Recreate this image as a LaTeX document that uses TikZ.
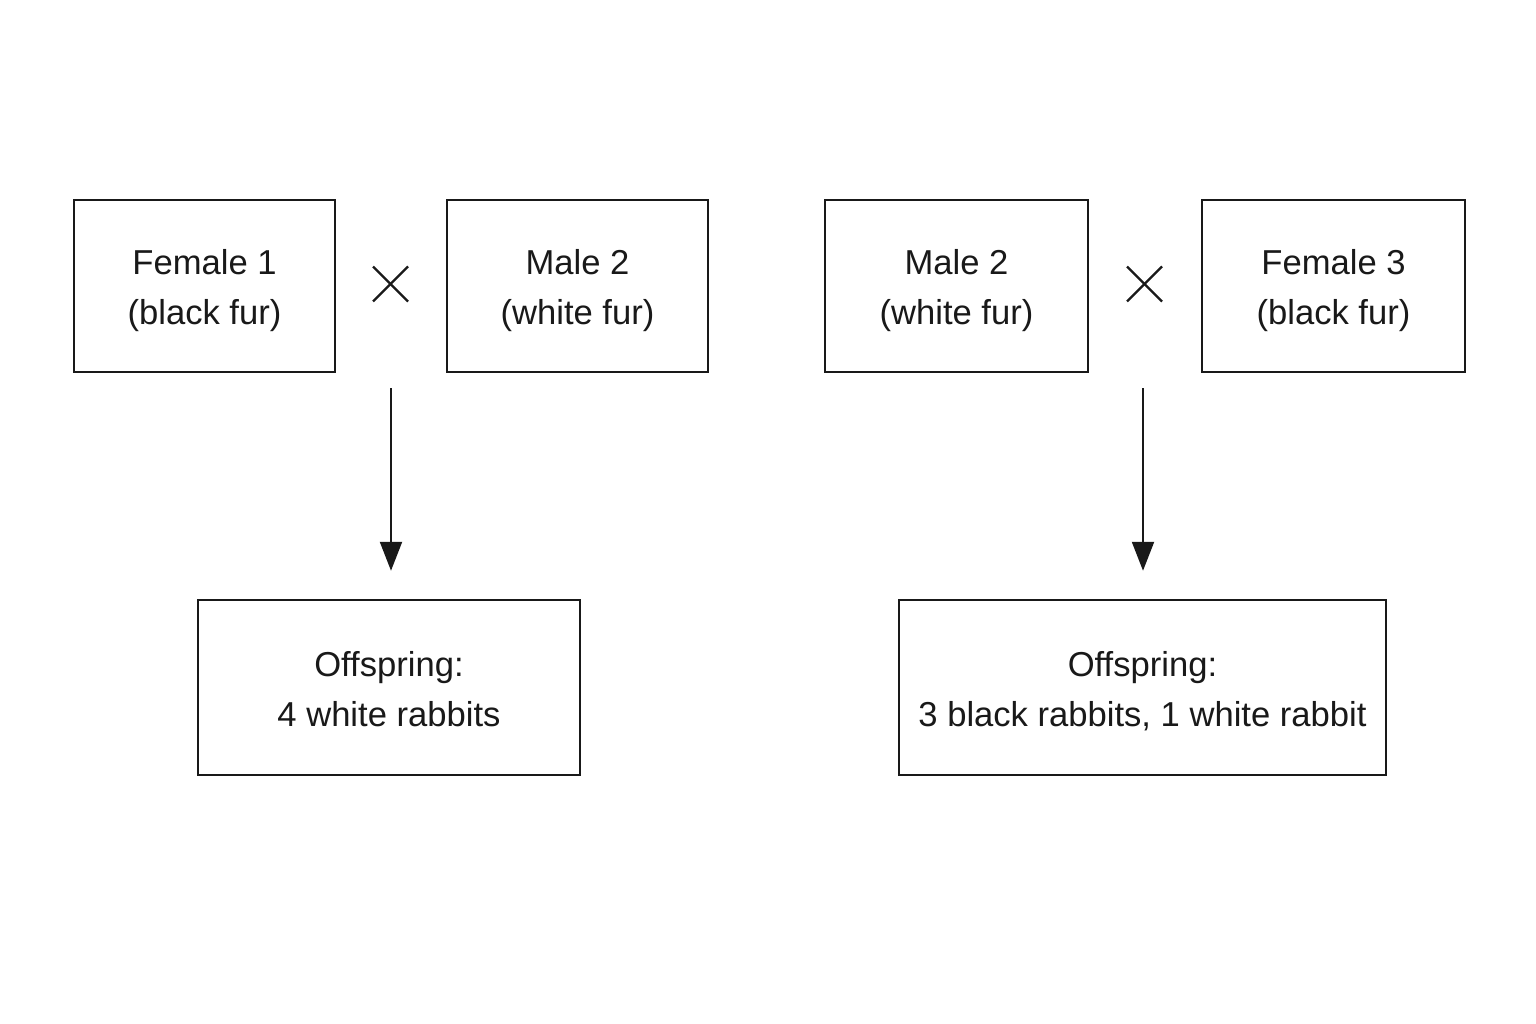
\documentclass[tikz,border=0pt]{standalone}
\usepackage{fontspec}
\setmainfont{Liberation Sans}
\usetikzlibrary{arrows.meta}
\begin{document}
\begin{tikzpicture}[x=1pt,y=1pt,
  parent/.style={draw=black!90, line width=2.5pt, minimum height=172pt, align=center, inner sep=0pt, text height=85pt, text depth=8pt, font=\fontsize{34.6}{50}\selectfont, text=black!90},
  child/.style={parent, minimum height=175pt},
  crossmark/.style={line width=2.2pt, draw=black!90},
  flow/.style={line width=2.2pt, draw=black!90, -{Triangle[width=22pt,length=29pt]}}]
\useasboundingbox[fill=white] (0,0) rectangle (1536,-1024);
\node[parent, minimum width=261pt] (f1) at (204.5,-286) {Female 1\\(black fur)};
\node[parent, minimum width=261pt] (m2a) at (577.5,-286) {Male 2\\(white fur)};
\node[parent, minimum width=263pt] (m2b) at (956.5,-286) {Male 2\\(white fur)};
\node[parent, minimum width=263pt] (f3) at (1333.5,-286) {Female 3\\(black fur)};
\node[child, minimum width=382pt] (offa) at (389,-687.5) {Offspring:\\4 white rabbits};
\node[child, minimum width=487pt] (offb) at (1142.5,-687.5) {Offspring:\\3 black rabbits, 1 white rabbit};
\coordinate (xa) at (390.5,-284);
\coordinate (xb) at (1144.5,-284);
\draw[crossmark] ([shift={(-17.5,17.5)}]xa) -- ([shift={(17.5,-17.5)}]xa);
\draw[crossmark] ([shift={(-17.5,-17.5)}]xa) -- ([shift={(17.5,17.5)}]xa);
\draw[crossmark] ([shift={(-17.5,17.5)}]xb) -- ([shift={(17.5,-17.5)}]xb);
\draw[crossmark] ([shift={(-17.5,-17.5)}]xb) -- ([shift={(17.5,17.5)}]xb);
\coordinate (sa) at (391,-388);
\coordinate (sb) at (1143,-388);
\draw[flow, shorten >=28pt] (sa) -- (sa |- offa.north);
\draw[flow, shorten >=28pt] (sb) -- (sb |- offb.north);
\end{tikzpicture}
\end{document}
